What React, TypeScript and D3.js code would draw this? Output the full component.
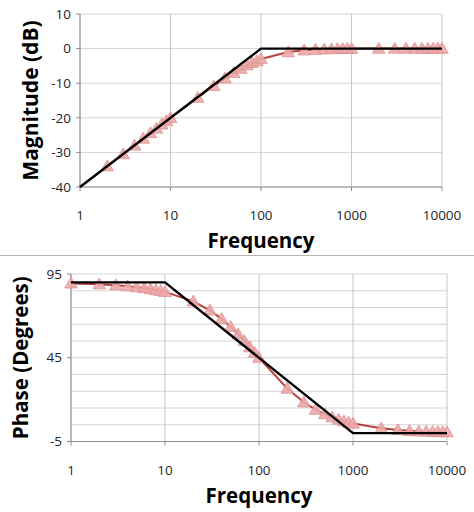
import * as d3 from 'd3'
import { useEffect } from 'react'

// measured frequencies (Hz)
const freqs = [
  1, 2, 3, 4, 5, 6, 7, 8, 9, 10, 20, 30, 40, 50, 60, 70, 80, 90, 100, 200, 300,
  400, 500, 600, 700, 800, 900, 1000, 2000, 3000, 4000, 5000, 6000, 7000, 8000,
  9000, 10000,
]

// magnitude (dB), first point hidden at -40
const magnitude = [
  -40, -34, -30.5, -28, -26, -24.4, -23.1, -21.9, -20.9, -20, -14.2, -10.8,
  -8.6, -7, -5.8, -4.8, -4.1, -3.6, -3, -1, -0.5, -0.3, -0.2, -0.1, -0.1, -0.1,
  0, 0, 0, 0, 0, 0, 0, 0, 0, 0, 0,
]

// phase (degrees)
const phase = [
  89.4, 88.9, 88.3, 87.7, 87.1, 86.6, 86, 85.4, 84.9, 84.3, 78.7, 73.3, 68.2,
  63.4, 59, 55, 51.3, 48, 45, 26.6, 18.4, 14, 11.3, 9.5, 8.1, 7.1, 6.3, 5.7, 2.9,
  1.9, 1.4, 1.1, 1, 0.8, 0.7, 0.6, 0.6,
]

// straight-line asymptotes
const magAsymF = [1, 100, 10000]
const magAsymV = [-40, 0, 0]
const phaseAsymF = [1, 10, 1000, 10000]
const phaseAsymV = [90, 90, 0, 0]

const xTicks = [1, 10, 100, 1000, 10000]
const magTicks = [10, 0, -10, -20, -30, -40]
const magGrid = [10, 0, -10, -20, -30, -40]
const phaseTicks = [95, 45, -5]
const phaseGrid = [95, 85, 75, 65, 55, 45, 35, 25, 15, 5, -5]

const FONT = '"Open Sans", "Liberation Sans", sans-serif'

type PanelProps = {
  top: number
  bottom: number
  left: number
  right: number
  yDomain: [number, number]
  yTicks: number[]
  yGrid: number[]
  values: number[]
  asymF: number[]
  asymV: number[]
  yTitle: string
  titleX: number
  titleSize: number
  labelY: number
  freqTitleY: number
  skipFirst: boolean
}

function Panel(p: PanelProps) {
  const x = d3.scaleLog().domain([1, 10000]).range([p.left, p.right])
  const y = d3.scaleLinear().domain(p.yDomain).range([p.bottom, p.top])
  const pts = freqs.map((f, i) => [f, p.values[i]] as [number, number])
  const line = d3
    .line<[number, number]>()
    .x((d) => x(d[0]))
    .y((d) => y(d[1]))
  const asym = p.asymF.map((f, i) => [f, p.asymV[i]] as [number, number])
  const tri = d3.symbol(d3.symbolTriangle, 68)()!
  const markerPts = p.skipFirst ? pts.slice(1) : pts

  return (
    <g>
      {p.yGrid.map((v) => (
        <line
          key={'h' + v}
          x1={p.left}
          x2={p.right}
          y1={y(v)}
          y2={y(v)}
          stroke="#d4d4d4"
          strokeWidth={1}
        />
      ))}
      {xTicks.map((f) => (
        <line
          key={'v' + f}
          x1={x(f)}
          x2={x(f)}
          y1={p.top}
          y2={p.bottom}
          stroke="#c8c8c8"
          strokeWidth={1}
        />
      ))}
      <line x1={p.left} x2={p.left} y1={p.top} y2={p.bottom} stroke="#8c8c8c" />
      <line x1={p.left} x2={p.right} y1={p.bottom} y2={p.bottom} stroke="#8c8c8c" />
      {p.yTicks.map((v) => (
        <g key={'yt' + v}>
          <line x1={p.left - 4} x2={p.left} y1={y(v)} y2={y(v)} stroke="#8c8c8c" />
          <text
            x={p.left - 9}
            y={y(v)}
            dy="0.35em"
            textAnchor="end"
            fontSize={13.5}
            fontFamily={FONT}
            fill="#262626"
          >
            {v}
          </text>
        </g>
      ))}
      {xTicks.map((f) => (
        <g key={'xt' + f}>
          <line x1={x(f)} x2={x(f)} y1={p.bottom} y2={p.bottom + 4} stroke="#8c8c8c" />
          <text
            x={x(f)}
            y={p.labelY}
            textAnchor="middle"
            fontSize={13.5}
            fontFamily={FONT}
            fill="#262626"
          >
            {f}
          </text>
        </g>
      ))}
      <path d={line(pts)!} fill="none" stroke="#b7413f" strokeWidth={2} />
      {markerPts.map((d, i) => (
        <path
          key={'m' + i}
          d={tri}
          transform={`translate(${x(d[0])},${y(d[1]) + 1})`}
          fill="#eba8a8"
          fillOpacity={0.9}
          stroke="#e08f8f"
          strokeWidth={0.8}
        />
      ))}
      <path d={line(asym)!} fill="none" stroke="#000" strokeWidth={2.4} />
      <text
        transform={`translate(${p.titleX},${(p.top + p.bottom) / 2}) rotate(-90)`}
        textAnchor="middle"
        fontSize={p.titleSize}
        fontWeight="bold"
        fontFamily={FONT}
        fill="#000"
      >
        {p.yTitle}
      </text>
      <text
        x={(p.left + p.right) / 2}
        y={p.freqTitleY}
        textAnchor="middle"
        fontSize={20.5}
        fontWeight="bold"
        fontFamily={FONT}
        fill="#000"
      >
        Frequency
      </text>
    </g>
  )
}

export default function App() {
  useEffect(() => {
    document.body.style.margin = '0'
  }, [])
  return (
    <svg width={474} height={512} style={{ display: 'block', background: '#fff' }}>
      <Panel
        top={14}
        bottom={187}
        left={80}
        right={442}
        yDomain={[-40, 10]}
        yTicks={magTicks}
        yGrid={magGrid}
        values={magnitude}
        asymF={magAsymF}
        asymV={magAsymV}
        yTitle="Magnitude (dB)"
        titleX={38}
        titleSize={21}
        labelY={220}
        freqTitleY={248}
        skipFirst={true}
      />
      <line x1={0} x2={474} y1={255.5} y2={255.5} stroke="#b5b5b5" strokeWidth={1} />
      <Panel
        top={274}
        bottom={441.5}
        left={71}
        right={447}
        yDomain={[-5, 95]}
        yTicks={phaseTicks}
        yGrid={phaseGrid}
        values={phase}
        asymF={phaseAsymF}
        asymV={phaseAsymV}
        yTitle="Phase (Degrees)"
        titleX={28}
        titleSize={20.5}
        labelY={475}
        freqTitleY={503}
        skipFirst={false}
      />
    </svg>
  )
}
